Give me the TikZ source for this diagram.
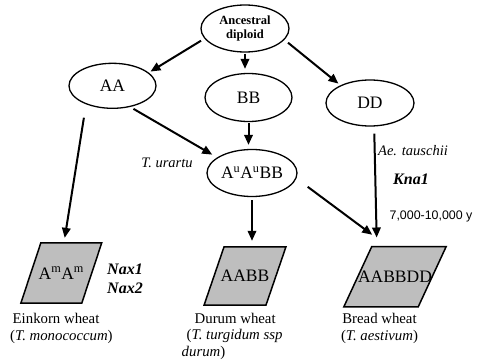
\documentclass[tikz,border=0pt]{standalone}
\usepackage{fontspec}
\setmainfont{Liberation Serif}
\newfontfamily\arialfont{Liberation Sans}
\usepackage{tikz}
\usetikzlibrary{shapes.geometric,arrows.meta,backgrounds}
\definecolor{boxgray}{RGB}{190,190,190}

\begin{document}
\begin{tikzpicture}[x=1pt,y=1pt,
  elli/.style={ellipse,draw,line width=1.3pt,minimum width=88pt,minimum height=46pt,font=\fontsize{17.5}{19}\selectfont},
  para/.style={minimum height=59pt,font=\fontsize{17.5}{19}\selectfont},
  pbox/.style={draw,fill=boxgray,line width=1.5pt,line join=miter},
  arr/.style={line width=2pt,-{Triangle[length=10pt,width=8.5pt]}},
  capt/.style={font=\fontsize{14.8}{16.5}\selectfont},
  lab/.style={font=\fontsize{14.5}{16}\selectfont\itshape},
  gene/.style={font=\fontsize{16}{19}\selectfont\bfseries\itshape}]
\tikzstyle{every node}+=[inner sep=0pt]
\useasboundingbox (0,0) rectangle (483,-364);
% ellipses
\node [elli,minimum height=47pt,font=\fontsize{12.5}{14.5}\selectfont\bfseries,align=center] (anc) at (245,-28.5) {Ancestral\\diploid};
\node [elli,minimum width=87pt,minimum height=45pt] (aa) at (112.5,-85.8) {AA};
\node [elli,minimum width=87pt,minimum height=48pt] (bb) at (248.5,-97.5) {BB};
\node [elli] (dd) at (370,-103) {DD};
\node [elli,minimum width=90pt,minimum height=47pt] (aub) at (252,-173) {A\textsuperscript{u}A\textsuperscript{u}BB};
% parallelograms
\node [para,minimum width=60.5pt,minimum height=60pt] (ein) at (61.3,-273) {A\textsuperscript{m}A\textsuperscript{m}};
\node [para,minimum width=61.5pt,minimum height=58pt] (dur) at (245,-276) {AABB};
\node [para,minimum width=74pt,minimum height=60pt] (brd) at (395,-276.7) {AABBDD};
\begin{scope}[on background layer]
\foreach \n/\s in {ein/10,dur/10,brd/14}
  \draw [pbox] ([xshift=-\s pt]\n.south west) -- ([xshift=-\s pt]\n.south east)
    -- ([xshift=\s pt]\n.north east) -- ([xshift=\s pt]\n.north west) -- cycle;
\end{scope}
% arrows
\draw [arr,shorten <=4pt,shorten >=2pt] (anc.194) -- (aa.20);
\draw [arr,shorten <=1pt,shorten >=4pt] (anc.south) -- (anc.south |- bb.north);
\draw [arr,shorten <=4.6pt,shorten >=2.6pt] (anc.344) -- (dd.149);
\draw [arr,shorten <=3.7pt,shorten >=5.6pt] (aa.310) -- (aub.156);
\draw [arr,shorten <=1pt,shorten >=4pt] (bb.south) -- (bb.south |- aub.north);
\draw [arr,shorten <=13.5pt,shorten >=5pt] (aa.215) -- (ein.85);
\draw [arr,shorten <=3pt,shorten >=6pt] (aub.south) -- (aub.south |- dur.north);
\draw [arr,shorten <=14pt,shorten >=19.7pt] (aub.-7) -- (brd.103);
\draw [arr,shorten <=7pt,shorten >=9pt] (dd.280) -- (brd.121);
% labels
\node [lab] (urartu) at (167,-163) {T. urartu};
\node [lab] (tauschii) at (413,-151) {Ae. tauschii};
\node [gene] (kna) at (411,-179) {Kna1};
\node [font=\arialfont\fontsize{12.4}{14}\selectfont] (age) at (431,-216) {7,000-10,000 y};
\node [gene,align=left,anchor=west] (nax) at (107,-279) {Nax1\\Nax2};
\node [capt,align=left,anchor=west] (einc) at (10,-328.5) {\hspace*{2.5pt}Einkorn wheat\\(\textit{T. monococcum})};
\node [capt,align=left,anchor=west] (durc) at (181.5,-336) {\hspace*{13pt}Durum wheat\\\hspace*{5pt}(\textit{T. turgidum ssp}\\\textit{durum})};
\node [capt,align=center] (brdc) at (379.5,-328.5) {Bread wheat\\(\textit{T. aestivum})};
\end{tikzpicture}
\end{document}
